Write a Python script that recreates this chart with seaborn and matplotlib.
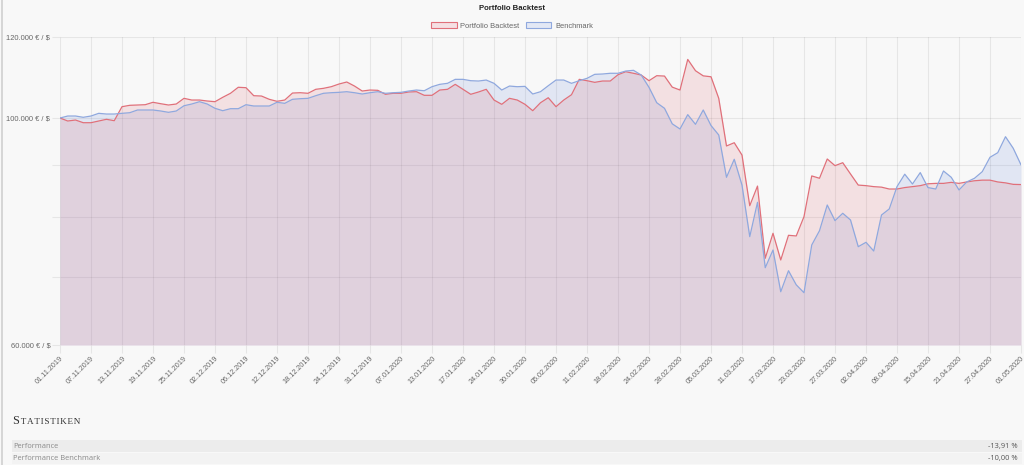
import numpy as np
import pandas as pd
import matplotlib
matplotlib.use("Agg")
import matplotlib.pyplot as plt
import seaborn as sns
from matplotlib.patches import Patch, Rectangle
from matplotlib.lines import Line2D

# ---------------- data ----------------
holidays = ["2019-11-28", "2019-12-25", "2020-01-01", "2020-01-20", "2020-02-17", "2020-04-10"]
dates = pd.bdate_range("2019-11-01", "2020-05-01")
dates = dates[~dates.isin(pd.to_datetime(holidays))]

portfolio = [
    100000, 99330, 99550, 98950, 98950, 99330, 99710, 99400, 102580, 102900,
    102970, 103040, 103600, 103270, 102970, 103200, 104530, 104130, 104130, 103900,
    103740, 104770, 105720, 107160, 107060, 105150, 105070, 104300, 103830, 104130,
    105780, 105860, 105720, 106670, 106910, 107300, 107950, 108440, 107460, 106260,
    106500, 106430, 105480, 105720, 105720, 106030, 106100, 105240, 105240, 106500,
    106670, 107870, 106670, 105480, 106030, 106670, 104130, 103130, 104530, 104130,
    103130, 101660, 103500, 104670, 102580, 104130, 105380, 109090, 108760, 108360,
    108680, 108680, 110230, 110980, 110590, 110150, 108760, 109990, 109900, 107200,
    106500, 114100, 111230, 109950, 109730, 104530, 93900, 94590, 92000, 82090,
    85800, 72930, 77150, 72650, 76800, 76690, 80100, 87780, 87320, 91190,
    89830, 90430, 88170, 85990, 85880, 85690, 85590, 85230, 85230, 85510,
    85690, 85880, 86240, 86320, 86320, 86520, 86320, 86600, 86830, 86950,
    86950, 86600, 86420, 86130, 86090,
]
benchmark = [
    100000, 100450, 100450, 100160, 100450, 101060, 100900, 100900, 101060, 101200,
    101820, 101820, 101820, 101590, 101290, 101590, 102800, 103200, 103740, 103200,
    102210, 101660, 102120, 102120, 103040, 102740, 102740, 102740, 103600, 103360,
    104300, 104440, 104530, 105150, 105720, 105860, 105950, 106100, 105860, 105550,
    105860, 106100, 105720, 105860, 105950, 106260, 106500, 106330, 107300, 107870,
    108120, 109090, 109090, 108760, 108680, 108920, 108120, 106500, 107460, 107300,
    107380, 105550, 106100, 107530, 108920, 108920, 108120, 108760, 109340, 110330,
    110410, 110590, 110590, 111150, 111330, 110150, 107150, 103500, 102210, 98700,
    97560, 100760, 98590, 101820, 98330, 96250, 87510, 91130, 85990, 76570,
    82720, 71400, 74300, 67640, 70920, 68700, 67490, 75150, 77600, 82220,
    79380, 80700, 79500, 74860, 75600, 74130, 80390, 81490, 85690, 88120,
    86200, 88440, 85510, 85230, 88760, 87510, 85050, 86600, 87320, 88620,
    91540, 92490, 95880, 93410, 90000,
]
tick_labels = [
    "01.11.2019", "07.11.2019", "13.11.2019", "19.11.2019", "25.11.2019", "02.12.2019",
    "06.12.2019", "12.12.2019", "18.12.2019", "24.12.2019", "31.12.2019", "07.01.2020",
    "13.01.2020", "17.01.2020", "24.01.2020", "30.01.2020", "05.02.2020", "11.02.2020",
    "18.02.2020", "24.02.2020", "28.02.2020", "05.03.2020", "11.03.2020", "17.03.2020",
    "23.03.2020", "27.03.2020", "02.04.2020", "08.04.2020", "15.04.2020", "21.04.2020",
    "27.04.2020", "01.05.2020",
]
y_ticks = [60000, 70000, 80000, 90000, 100000, 120000]
y_tick_labels = ["60.000 € / $", "", "", "", "100.000 € / $", "120.000 € / $"]
series_names = ["Portfolio Backtest", "Benchmark"]
stat_labels = ["Performance", "Performance Benchmark"]
stat_values = ["-13,91 %", "-10,00 %"]

# ---------------- style ----------------
sns.set_theme(style="white")
plt.rcParams["font.family"] = ["Liberation Sans", "DejaVu Sans"]

BG = "#f8f8f8"
RED_LINE = "#e0707a"
RED_FILL = (0.86, 0.40, 0.44, 0.16)
BLUE_LINE = "#8fa8de"
BLUE_FILL = (0.43, 0.54, 0.86, 0.16)
GRID_ALPHA = 0.07
TXT = "#666666"

W, H = 1024, 465
fig = plt.figure(figsize=(W / 100, H / 100), dpi=100, facecolor=BG)
ax = fig.add_axes([60 / W, 1 - 345 / H, (1021 - 60) / W, (345 - 37) / H], facecolor=BG)

day = np.arange(len(dates))
df = pd.DataFrame({
    "day": np.concatenate([day, day]),
    "value": np.concatenate([portfolio, benchmark]),
    "series": [series_names[0]] * len(day) + [series_names[1]] * len(day),
})

ax.set_yscale("log")
ax.fill_between(day, benchmark, 60000, color=BLUE_FILL, linewidth=0, zorder=1)
ax.fill_between(day, portfolio, 60000, color=RED_FILL, linewidth=0, zorder=1)
sns.lineplot(data=df, x="day", y="value", hue="series",
             palette={series_names[0]: RED_LINE, series_names[1]: BLUE_LINE},
             linewidth=0.9, legend=False, ax=ax, zorder=3)

ax.set_xlim(0, len(day) - 1)
ax.set_ylim(60000, 120000)

# x ticks at the labelled dates
label_dates = pd.to_datetime(tick_labels, format="%d.%m.%Y")
tick_pos = [int(np.where(dates == d)[0][0]) for d in label_dates]
ax.set_xticks(tick_pos)
ax.set_xticklabels(tick_labels, rotation=45, ha="right", va="top",
                   rotation_mode="anchor", fontsize=5.2, color=TXT)
ax.yaxis.set_major_locator(matplotlib.ticker.FixedLocator(y_ticks))
ax.yaxis.set_minor_locator(matplotlib.ticker.NullLocator())
ax.set_yticklabels(y_tick_labels, fontsize=5.4, color=TXT)

ax.tick_params(axis="both", length=6, width=0.8, color="#e6e6e6", pad=1)
ax.tick_params(axis="x", bottom=True)
ax.tick_params(axis="y", left=True)
ax.grid(True, color="black", alpha=GRID_ALPHA, linewidth=0.8)
ax.set_axisbelow(True)
for s in ax.spines.values():
    s.set_visible(False)
ax.set_xlabel("")
ax.set_ylabel("")

# ---------------- title & legend ----------------
fig.text(0.5, 1 - 8 / H, "Portfolio Backtest", ha="center", va="center",
         fontsize=5.6, fontweight="bold", color="#222222")
handles = [
    Patch(facecolor=(0.96, 0.88, 0.89), edgecolor=RED_LINE, linewidth=0.8),
    Patch(facecolor=(0.89, 0.91, 0.96), edgecolor=BLUE_LINE, linewidth=0.8),
]
fig.legend(handles, series_names, loc="center", bbox_to_anchor=(0.5, 1 - 26 / H),
           ncol=2, frameon=False, fontsize=5.4, labelcolor=TXT,
           handlelength=3.4, handleheight=0.9, handletextpad=0.5, columnspacing=0.8)

# ---------------- statistics section ----------------
fig.add_artist(Line2D([1.5 / W, 1.5 / W], [0, 1], color="#d0d0d0", linewidth=1.2))
fig.text(12 / W, 1 - 424 / H, "S", fontsize=8.8, family="Liberation Serif",
         color="#333333", va="baseline", ha="left")
fig.text(20 / W, 1 - 424 / H, "\u200aT\u200aA\u200aT\u200aI\u200aS\u200aT\u200aI\u200aK\u200aE\u200aN",
         fontsize=6.6, family=["Liberation Serif", "DejaVu Serif"], color="#333333",
         va="baseline", ha="left")

fig.add_artist(Rectangle((12 / W, 1 - 452 / H), (1022 - 12) / W, 12 / H,
                         facecolor="#ececec", edgecolor="none"))
fig.add_artist(Rectangle((12 / W, 1 - 464 / H), (1022 - 12) / W, 11.5 / H,
                         facecolor="#f3f3f3", edgecolor="none"))
for i, (lab, val) in enumerate(zip(stat_labels, stat_values)):
    yc = 1 - (446 + 12 * i) / H
    fig.text(13 / W, yc, lab, fontsize=5.4, family="Open Sans", color="#8a8a8a",
             va="center", ha="left")
    fig.text(1018 / W, yc, val, fontsize=5.4, family="Open Sans", color="#555555",
             va="center", ha="right")

fig.savefig("out.png", dpi=100, facecolor=BG)
